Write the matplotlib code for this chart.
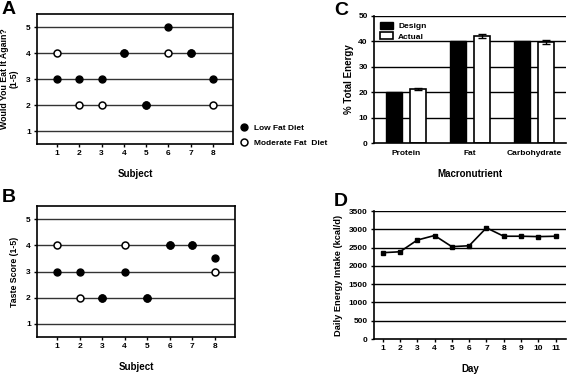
import matplotlib
matplotlib.use("Agg")
import matplotlib.pyplot as plt
from matplotlib.lines import Line2D
import numpy as np

plt.rcParams['font.family'] = ['Liberation Sans', 'DejaVu Sans']
plt.rcParams['font.weight'] = 'bold'

# panel A / B data
subjects = [1, 2, 3, 4, 5, 6, 7, 8]
eat_low = [3, 3, 3, 4, 2, 5, 4, 3]
eat_mod = [4, 2, 2, 4, 2, 4, 4, 2]
taste_low = [3, 3, 2, 3, 2, 4, 4, 3.5]
taste_mod = [4, 2, 2, 4, 2, 4, 4, 3]

# panel C data
nutrients = ["Protein", "Fat", "Carbohydrate"]
design = [20, 40, 40]
actual = [21.2, 42.3, 39.6]
actual_err = [0.3, 0.8, 0.8]

# panel D data
days = [1, 2, 3, 4, 5, 6, 7, 8, 9, 10, 11]
energy = [2360, 2385, 2705, 2830, 2525, 2550, 3040, 2810, 2810, 2800, 2810]

W, H = 567, 374
fig = plt.figure(figsize=(W / 100, H / 100), dpi=100)

def px(l, t, r, b):
    return [l / W, 1 - b / H, (r - l) / W, (b - t) / H]

tick_fs = 6
lab_fs = 7
ylab_fs = 6.3
xlab_pad = 8.5


def score_panel(ax, low, mod, ylab):
    ax.set_xlim(0.1, 8.9)
    ax.set_ylim(0.5, 5.5)
    for v in range(1, 6):
        ax.axhline(v, color='#333333', lw=1, zorder=1)
    ax.plot(subjects, mod, 'o', mfc='white', mec='black', mew=1.1, ms=5, ls='none', zorder=3)
    ax.plot(subjects, low, 'o', color='black', ms=5, ls='none', zorder=4)
    ax.set_xticks(subjects)
    ax.set_yticks(range(1, 6))
    ax.tick_params(labelsize=tick_fs, length=2.5, width=1, pad=2)
    for s in ax.spines.values():
        s.set_linewidth(1.2)
    ax.set_xlabel("Subject", fontsize=lab_fs, fontweight='bold', labelpad=xlab_pad)
    ax.set_ylabel(ylab, fontsize=ylab_fs, fontweight='bold', labelpad=5, linespacing=1.15)
    for t in ax.get_xticklabels() + ax.get_yticklabels():
        t.set_fontweight('bold')


axA = fig.add_axes(px(37, 14, 233, 144))
score_panel(axA, eat_low, eat_mod, "Would You Eat It Again?\n(1-5)")
handles = [Line2D([], [], marker='o', color='black', ls='none', ms=5),
           Line2D([], [], marker='o', mfc='white', mec='black', mew=1.1, ls='none', ms=5)]
axA.legend(handles, ["Low Fat Diet", "Moderate Fat  Diet"], loc='upper left',
           bbox_to_anchor=(1.02, 0.18), frameon=False, fontsize=6,
           handletextpad=0.6, labelspacing=0.9, borderaxespad=0, handlelength=1)

axB = fig.add_axes(px(37, 206, 235, 337))
score_panel(axB, taste_low, taste_mod, "Taste Score (1-5)")

# panel C
axC = fig.add_axes(px(374, 16, 566, 143))
x = np.arange(len(nutrients))
bw = 0.26
off = 0.1875
axC.set_ylim(0, 50)
axC.set_xlim(-0.5, 2.5)
axC.set_yticks(range(0, 51, 10))
for v in range(10, 51, 10):
    axC.axhline(v, color='black', lw=1, zorder=1)
axC.bar(x - off, design, bw, color='black', edgecolor='black', lw=1, zorder=2, label="Design")
axC.bar(x + off, actual, bw, color='white', edgecolor='black', lw=1.2, zorder=2, label="Actual",
        yerr=actual_err, error_kw=dict(ecolor='black', elinewidth=1, capsize=3, capthick=1))
axC.set_xticks(x)
axC.set_xticklabels(nutrients)
axC.tick_params(labelsize=tick_fs, length=2.5, width=1, pad=2)
axC.tick_params(axis='x', length=0, pad=5)
for t in axC.get_xticklabels() + axC.get_yticklabels():
    t.set_fontweight('bold')
axC.spines['top'].set_visible(False)
axC.spines['right'].set_visible(False)
axC.spines['left'].set_linewidth(1.2)
axC.spines['bottom'].set_linewidth(1.2)
axC.set_ylabel("% Total Energy", fontsize=lab_fs, fontweight='bold', labelpad=3)
axC.set_xlabel("Macronutrient", fontsize=lab_fs, fontweight='bold', labelpad=xlab_pad)
axC.legend(loc='upper left', frameon=False, fontsize=6, handlelength=1.6, handleheight=0.9,
           labelspacing=0.25, borderaxespad=0.3, handletextpad=0.6)

# panel D
axD = fig.add_axes(px(374, 211, 566, 339))
axD.set_xlim(0.5, 11.6)
axD.set_ylim(0, 3500)
axD.set_yticks(range(0, 3501, 500))
for v in range(500, 3501, 500):
    axD.axhline(v, color='black', lw=1, zorder=1)
axD.plot(days, energy, '-s', color='black', lw=1.2, ms=3.5, zorder=3)
axD.set_xticks(days)
axD.tick_params(labelsize=tick_fs, length=2.5, width=1, pad=2)
for t in axD.get_xticklabels() + axD.get_yticklabels():
    t.set_fontweight('bold')
axD.spines['top'].set_visible(False)
axD.spines['right'].set_visible(False)
axD.spines['left'].set_linewidth(1.2)
axD.spines['bottom'].set_linewidth(1.2)
axD.set_ylabel("Daily Energy Intake (kcal/d)", fontsize=6.7, fontweight='bold', labelpad=4)
axD.set_xlabel("Day", fontsize=lab_fs, fontweight='bold', labelpad=xlab_pad)

# panel letters
for letter, (lx, ly) in {"A": (2, 1), "B": (2, 189), "C": (334, 2), "D": (334, 193)}.items():
    fig.text(lx / W, 1 - ly / H, letter, fontsize=14, fontweight='bold', va='top', ha='left')

fig.savefig("out.png", dpi=100)
